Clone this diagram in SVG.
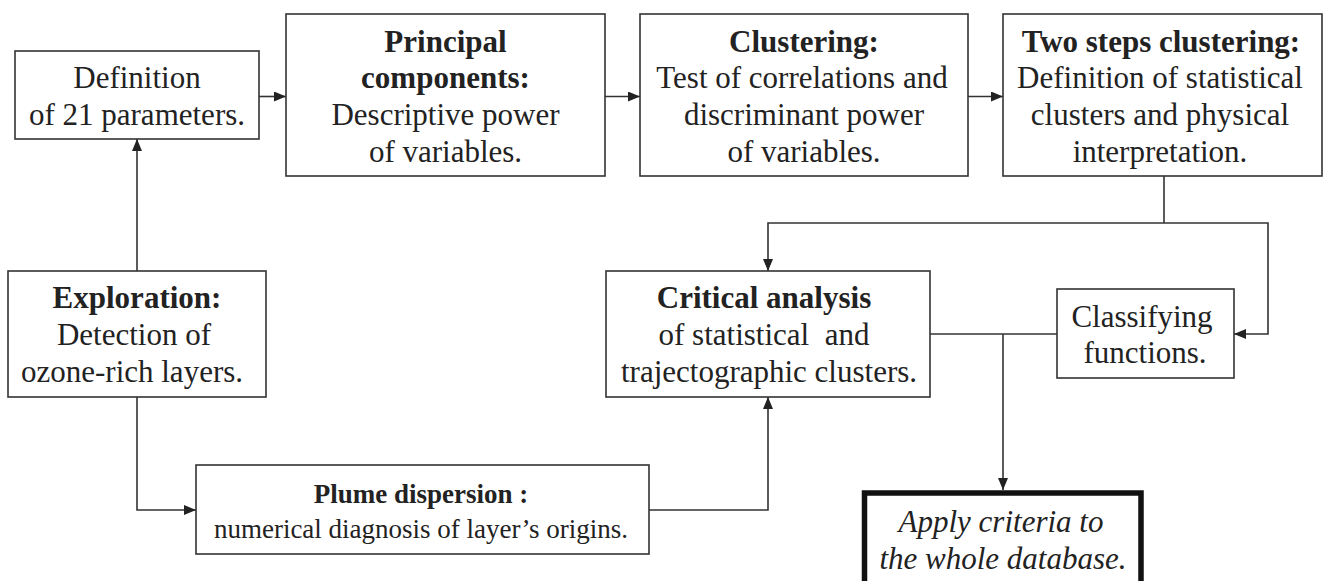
<svg xmlns="http://www.w3.org/2000/svg" width="1324" height="581" viewBox="0 0 1324 581">
<defs>
<marker id="arr" markerUnits="userSpaceOnUse" markerWidth="12" markerHeight="10" refX="12" refY="5" orient="auto">
<path d="M0,0 L12,5 L0,10 Z" fill="#222"/>
</marker>
<style>
.box{fill:#fff;stroke:#333;stroke-width:1.6}
.thick{fill:#fff;stroke:#111;stroke-width:5.5}
.c{fill:none;stroke:#333;stroke-width:1.6}
</style>
</defs>
<g id="connectors">
<path class="c" d="M259,96.5 H286" marker-end="url(#arr)"/>
<path class="c" d="M605,96.5 H640" marker-end="url(#arr)"/>
<path class="c" d="M968,96.5 H1003" marker-end="url(#arr)"/>
<path class="c" d="M137,271 V139" marker-end="url(#arr)"/>
<path class="c" d="M137,397 V510 H196" marker-end="url(#arr)"/>
<path class="c" d="M649,510 H768 V397" marker-end="url(#arr)"/>
<path class="c" d="M1164,176 V223"/>
<path class="c" d="M1164,223 H768 V271" marker-end="url(#arr)"/>
<path class="c" d="M1164,223 H1268 V334 H1234" marker-end="url(#arr)"/>
<path class="c" d="M930,334 H1057"/>
<path class="c" d="M1003,334 V490" marker-end="url(#arr)"/>
</g>
<g font-family="Liberation Serif" font-size="31" fill="#222" text-anchor="middle">
<g id="definition">
<rect class="box" x="15" y="51" width="244" height="88"/>
<text font-family="Liberation Serif" x="137" y="88">Definition</text>
<text font-family="Liberation Serif" x="137" y="125">of 21 parameters.</text>
</g>
<g id="principal">
<rect class="box" x="286" y="14" width="319" height="162"/>
<text font-family="Liberation Serif" font-weight="bold" x="445.5" y="52">Principal</text>
<text font-family="Liberation Serif" font-weight="bold" x="445.5" y="88">components:</text>
<text font-family="Liberation Serif" x="445.5" y="125">Descriptive power</text>
<text font-family="Liberation Serif" x="445.5" y="162">of variables.</text>
</g>
<g id="clustering">
<rect class="box" x="640" y="14" width="328" height="162"/>
<text font-family="Liberation Serif" font-weight="bold" x="804" y="52">Clustering:</text>
<text font-family="Liberation Serif" x="802" y="88">Test of correlations and</text>
<text font-family="Liberation Serif" x="804" y="125">discriminant power</text>
<text font-family="Liberation Serif" x="804" y="162">of variables.</text>
</g>
<g id="twosteps">
<rect class="box" x="1003" y="14" width="319" height="162"/>
<text font-family="Liberation Serif" font-weight="bold" x="1161" y="52">Two steps clustering:</text>
<text font-family="Liberation Serif" x="1160" y="88">Definition of statistical</text>
<text font-family="Liberation Serif" x="1160" y="125">clusters and physical</text>
<text font-family="Liberation Serif" x="1160" y="162">interpretation.</text>
</g>
<g id="exploration">
<rect class="box" x="8" y="271" width="258" height="126"/>
<text font-family="Liberation Serif" font-weight="bold" x="137" y="308">Exploration:</text>
<text font-family="Liberation Serif" x="134" y="345">Detection of</text>
<text font-family="Liberation Serif" x="132" y="382">ozone-rich layers.</text>
</g>
<g id="critical">
<rect class="box" x="606" y="271" width="324" height="126"/>
<text font-family="Liberation Serif" font-weight="bold" x="764" y="308">Critical analysis</text>
<text font-family="Liberation Serif" xml:space="preserve" x="764" y="345">of statistical  and</text>
<text font-family="Liberation Serif" x="769" y="382">trajectographic clusters.</text>
</g>
<g id="classifying">
<rect class="box" x="1057" y="289" width="177" height="89"/>
<text font-family="Liberation Serif" x="1142" y="327">Classifying</text>
<text font-family="Liberation Serif" x="1145" y="363">functions.</text>
</g>
<g id="plume">
<rect class="box" x="196" y="465" width="453" height="89"/>
<text font-family="Liberation Serif" font-size="27" font-weight="bold" x="421" y="503">Plume dispersion :</text>
<text font-family="Liberation Serif" font-size="27" x="421" y="538">numerical diagnosis of layer’s origins.</text>
</g>
<g id="apply">
<rect class="thick" x="864.5" y="493" width="276.5" height="110"/>
<text font-family="Liberation Serif" font-style="italic" x="1001" y="532">Apply criteria to</text>
<text font-family="Liberation Serif" font-style="italic" x="1003" y="569">the whole database.</text>
</g>
</g>
</svg>
